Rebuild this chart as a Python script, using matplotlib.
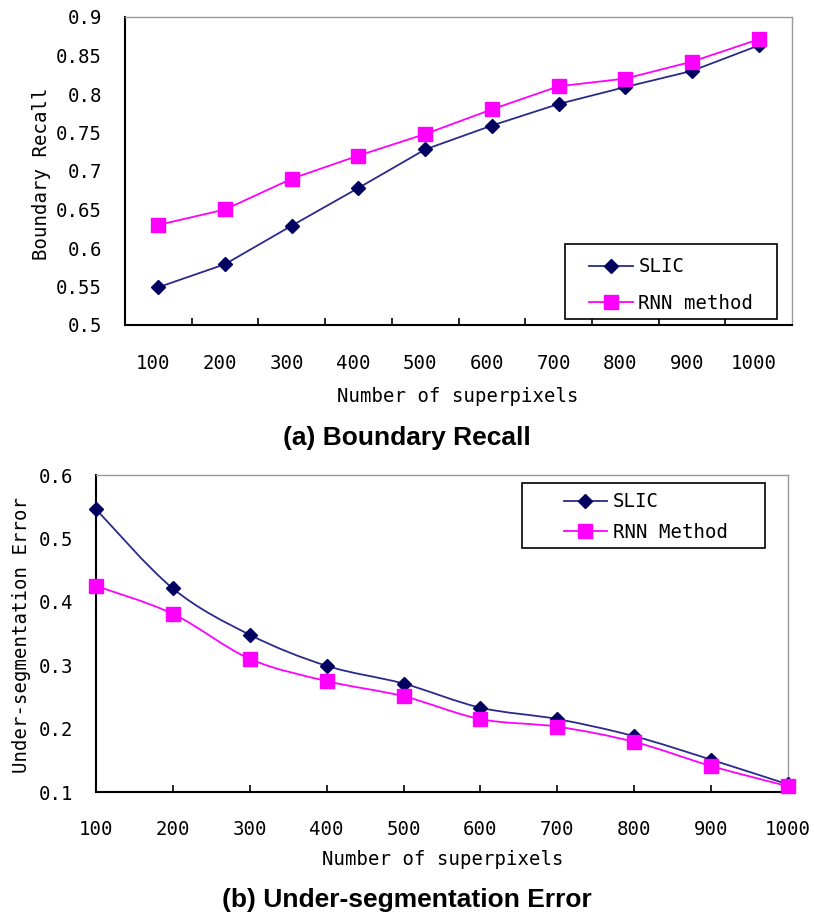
import matplotlib
matplotlib.use('Agg')
import matplotlib.pyplot as plt
from matplotlib.path import Path
from matplotlib.patches import PathPatch, Rectangle
from matplotlib.lines import Line2D
from matplotlib.transforms import ScaledTranslation

# ---------------- data ----------------
categories = ['100', '200', '300', '400', '500', '600', '700', '800', '900', '1000']

br_slic = [0.549, 0.579, 0.629, 0.678, 0.728, 0.759, 0.787, 0.809, 0.830, 0.863]
br_rnn = [0.630, 0.650, 0.690, 0.720, 0.748, 0.780, 0.810, 0.820, 0.842, 0.871]
br_yticks = [0.5, 0.55, 0.6, 0.65, 0.7, 0.75, 0.8, 0.85, 0.9]
br_yticklabels = ['0.5', '0.55', '0.6', '0.65', '0.7', '0.75', '0.8', '0.85', '0.9']

ue_slic = [0.546, 0.421, 0.348, 0.299, 0.271, 0.233, 0.215, 0.188, 0.151, 0.112]
ue_rnn = [0.425, 0.381, 0.310, 0.275, 0.251, 0.215, 0.203, 0.179, 0.141, 0.109]
ue_yticks = [0.1, 0.2, 0.3, 0.4, 0.5, 0.6]
ue_yticklabels = ['0.1', '0.2', '0.3', '0.4', '0.5', '0.6']

# ---------------- style ----------------
MONO = 'DejaVu Sans Mono'
FS = 13.7
SLIC_LINE = '#2a2a8a'
SLIC_MARK = '#000060'
RNN_COL = '#ff00ff'

W, H = 814, 913
fig = plt.figure(figsize=(W / 100, H / 100), dpi=100)
fig.patch.set_facecolor('white')


def px_axes(l, t, r, b):
    return fig.add_axes([l / W, 1 - b / H, (r - l) / W, (b - t) / H])


def style_spines(ax):
    for s in ('left', 'bottom'):
        ax.spines[s].set_color('black')
        ax.spines[s].set_linewidth(1.5)
    for s in ('top', 'right'):
        ax.spines[s].set_color('#9a9a9a')
        ax.spines[s].set_linewidth(1.0)


def smooth_path(xs, ys):
    pts = list(zip(xs, ys))
    n = len(pts)
    verts = [pts[0]]
    codes = [Path.MOVETO]
    for i in range(n - 1):
        p0 = pts[i - 1] if i > 0 else pts[i]
        p1 = pts[i]
        p2 = pts[i + 1]
        p3 = pts[i + 2] if i + 2 < n else pts[i + 1]
        c1 = (p1[0] + (p2[0] - p0[0]) / 6, p1[1] + (p2[1] - p0[1]) / 6)
        c2 = (p2[0] - (p3[0] - p1[0]) / 6, p2[1] - (p3[1] - p1[1]) / 6)
        verts += [c1, c2, p2]
        codes += [Path.CURVE4] * 3
    return Path(verts, codes)


# ================= (a) Boundary Recall =================
ax1 = px_axes(125, 17, 792, 325)
xs = list(range(len(categories)))
ax1.plot(xs, br_slic, color=SLIC_LINE, lw=1.3, marker='D', ms=7,
         mfc=SLIC_MARK, mec=SLIC_MARK, zorder=3)
ax1.plot(xs, br_rnn, color=RNN_COL, lw=1.3, marker='s', ms=9.5,
         mfc=RNN_COL, mec=RNN_COL, zorder=3)
ax1.set_xlim(-0.5, len(categories) - 0.5)
ax1.set_ylim(0.5, 0.9)
ax1.set_xticks(xs)
ax1.set_xticklabels(categories, family=MONO, size=FS)
ax1.set_xticks([i + 0.5 for i in range(len(categories) - 1)], minor=True)
ax1.tick_params(axis='x', which='major', length=0, pad=21)
ax1.tick_params(axis='x', which='minor', direction='in', length=5, width=1.2, color='black')
ax1.set_yticks(br_yticks)
ax1.set_yticklabels(br_yticklabels, family=MONO, size=FS)
ax1.tick_params(axis='y', length=0, pad=16.5)
style_spines(ax1)
shift = ScaledTranslation(-5 / 100, 0, fig.dpi_scale_trans)
for lbl in ax1.get_xticklabels():
    lbl.set_transform(lbl.get_transform() + shift)

ax1.add_patch(Rectangle(((565 - 125) / 667, (325 - 319) / 308), (777 - 565) / 667, (319 - 244) / 308,
                        transform=ax1.transAxes, facecolor='white', edgecolor='black', lw=1.2, zorder=4))
h1 = [Line2D([], [], color=SLIC_LINE, lw=1.3, marker='D', ms=7, mfc=SLIC_MARK, mec=SLIC_MARK),
      Line2D([], [], color=RNN_COL, lw=1.3, marker='s', ms=9.5, mfc=RNN_COL, mec=RNN_COL)]
leg1 = ax1.legend(h1, ['SLIC', 'RNN method'], loc='center left',
                  bbox_to_anchor=((589 - 125) / 667, (325 - 285) / 308),
                  frameon=False, borderpad=0, borderaxespad=0, handlelength=2.3,
                  handletextpad=0.3, labelspacing=0.9, prop=dict(family=MONO, size=FS))
leg1.set_zorder(5)

fig.text(457.5 / W, 1 - 396 / H, 'Number of superpixels', ha='center', va='center', family=MONO, size=FS)
fig.text(42 / W, 1 - 173.5 / H, 'Boundary Recall', ha='center', va='center', rotation=90, family=MONO, size=FS)
fig.text(406.5 / W, 1 - 445 / H, '(a) Boundary Recall', ha='center', va='baseline',
         family='Liberation Sans', weight='bold', size=19)

# ================= (b) Under-segmentation Error =================
ax2 = px_axes(96, 475, 788, 792)
ax2.add_patch(PathPatch(smooth_path(xs, ue_slic), facecolor='none', edgecolor=SLIC_LINE,
                        lw=1.3, zorder=3, clip_on=False))
ax2.add_patch(PathPatch(smooth_path(xs, ue_rnn), facecolor='none', edgecolor=RNN_COL,
                        lw=1.3, zorder=3, clip_on=False))
ax2.plot(xs, ue_slic, ls='none', marker='D', ms=7.5, mfc=SLIC_MARK, mec=SLIC_MARK, zorder=4, clip_on=False)
ax2.plot(xs, ue_rnn, ls='none', marker='s', ms=10, mfc=RNN_COL, mec=RNN_COL, zorder=4, clip_on=False)
ax2.set_xlim(0, len(categories) - 1)
ax2.set_ylim(0.1, 0.6)
ax2.set_xticks(xs)
ax2.set_xticklabels(categories, family=MONO, size=FS)
ax2.tick_params(axis='x', direction='in', length=5, width=1.2, pad=20)
ax2.set_yticks(ue_yticks)
ax2.set_yticklabels(ue_yticklabels, family=MONO, size=FS)
ax2.tick_params(axis='y', length=0, pad=16.5)
style_spines(ax2)

ax2.add_patch(Rectangle(((522 - 96) / 692, (792 - 548) / 317), (765 - 522) / 692, (548 - 483) / 317,
                        transform=ax2.transAxes, facecolor='white', edgecolor='black', lw=1.2, zorder=5))
h2 = [Line2D([], [], color=SLIC_LINE, lw=1.3, marker='D', ms=7.5, mfc=SLIC_MARK, mec=SLIC_MARK),
      Line2D([], [], color=RNN_COL, lw=1.3, marker='s', ms=10, mfc=RNN_COL, mec=RNN_COL)]
leg2 = ax2.legend(h2, ['SLIC', 'RNN Method'], loc='center left',
                  bbox_to_anchor=((564 - 96) / 692, (792 - 517) / 317),
                  frameon=False, borderpad=0, borderaxespad=0, handlelength=2.25,
                  handletextpad=0.3, labelspacing=0.6, prop=dict(family=MONO, size=FS))
leg2.set_zorder(6)

fig.text(443 / W, 1 - 859 / H, 'Number of superpixels', ha='center', va='center', family=MONO, size=FS)
fig.text(22 / W, 1 - 634.5 / H, 'Under-segmentation Error', ha='center', va='center', rotation=90,
         family=MONO, size=FS)
fig.text(407 / W, 1 - 907 / H, '(b) Under-segmentation Error', ha='center', va='baseline',
         family='Liberation Sans', weight='bold', size=19)

fig.savefig('out.png', dpi=100, facecolor='white')
